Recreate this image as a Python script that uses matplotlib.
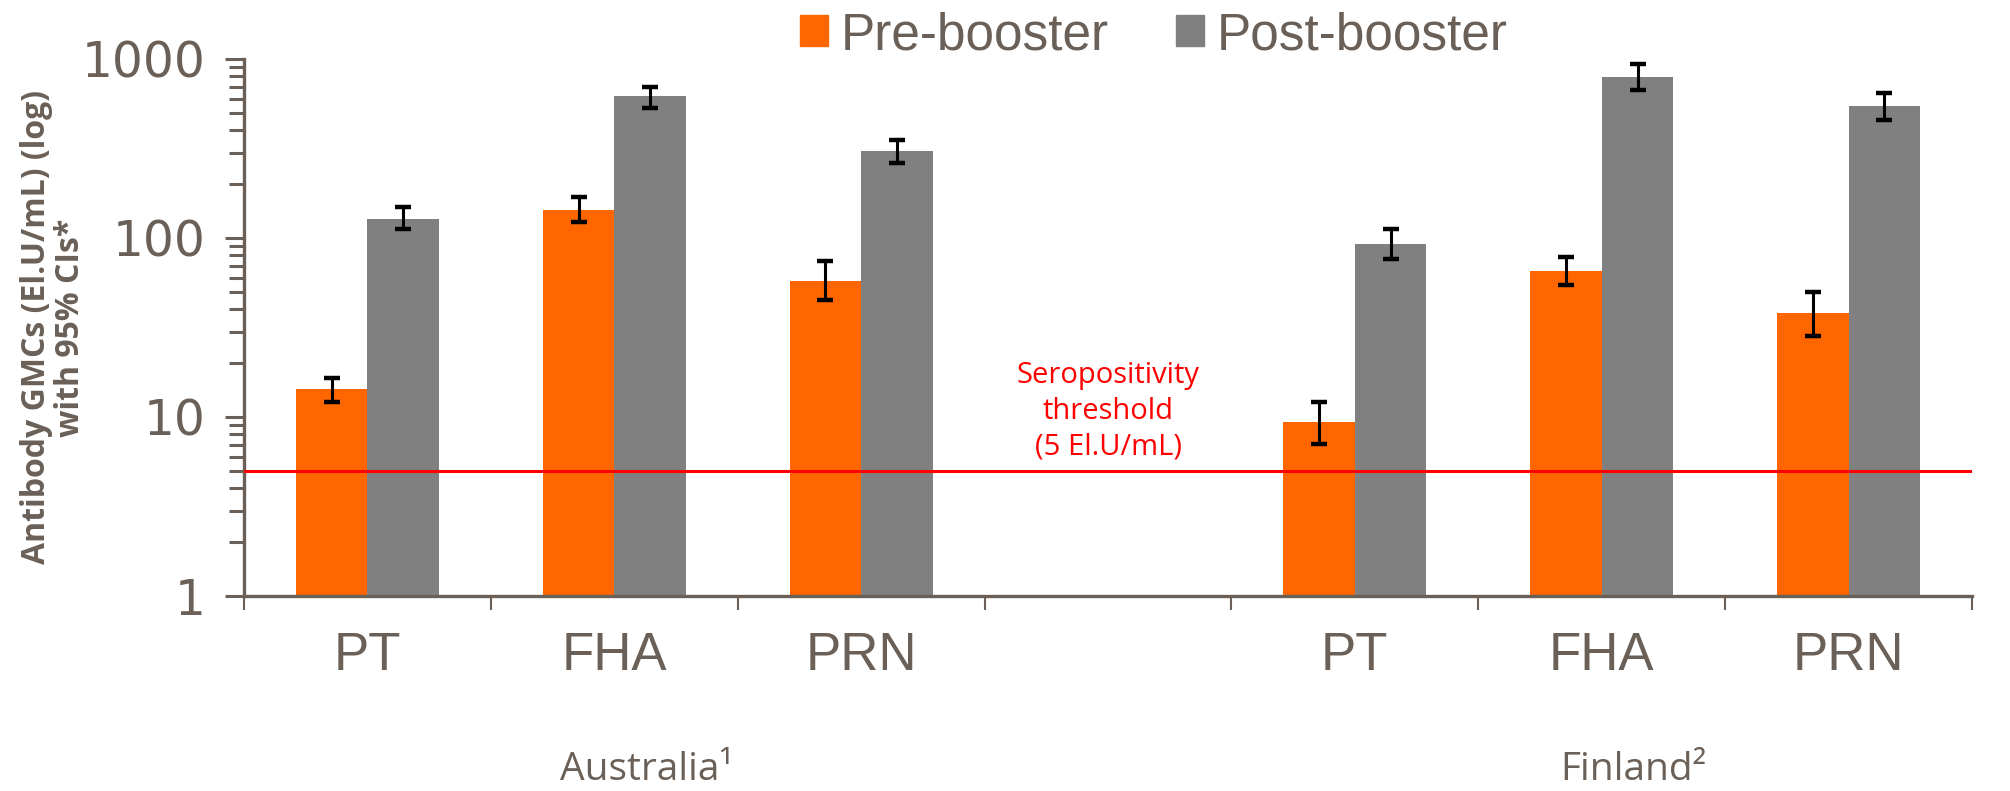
import numpy as np
import matplotlib
matplotlib.use('Agg')
import matplotlib.pyplot as plt
from matplotlib.patches import Patch
import matplotlib.transforms as mtransforms

# data
antigens = ['PT', 'FHA', 'PRN', '', 'PT', 'FHA', 'PRN']
countries = ['Australia\u00b9', 'Finland\u00b2']
country_center = [1, 5]

pre_gmc = [14.3, 143, 57.5, np.nan, 9.4, 65.4, 38.1]
pre_lo = [12.1, 122, 44.9, np.nan, 7.1, 54.4, 28.2]
pre_hi = [16.6, 169, 74.5, np.nan, 12.1, 78, 50]

post_gmc = [128, 621, 306, np.nan, 92.5, 794, 546]
post_lo = [112, 532, 261, np.nan, 76, 669, 456]
post_hi = [149, 694, 352, np.nan, 112, 934, 649]

threshold = 5

text_col = '#6A6057'
orange = '#FF6600'
grey = '#808080'

fig = plt.figure(figsize=(20.1, 7.91), dpi=100)
ax = fig.add_axes([0.1214, 0.2465, 0.8597, 0.679])

x = np.arange(len(antigens))
w = 0.29

pre = np.array(pre_gmc)
post = np.array(post_gmc)
pre_err = [pre - np.array(pre_lo), np.array(pre_hi) - pre]
post_err = [post - np.array(post_lo), np.array(post_hi) - post]

ax.bar(x - w / 2, pre, w, color=orange, zorder=2)
ax.bar(x + w / 2, post, w, color=grey, zorder=2)
ekw = dict(fmt='none', ecolor='black', elinewidth=2.2, capsize=6, capthick=3.2, zorder=3)
ax.errorbar(x - w / 2, pre, yerr=pre_err, **ekw)
ax.errorbar(x + w / 2, post, yerr=post_err, **ekw)

ax.axhline(threshold, color='#FF0000', lw=2.2, zorder=4)
ax.annotate('Seropositivity\nthreshold\n(5 El.U/mL)', xy=(3, threshold),
            xytext=(0, 7), textcoords='offset points', ha='center', va='bottom',
            multialignment='center', color='#FF0000', fontsize=21,
            family='Open Sans', linespacing=1.3)

ax.set_yscale('log')
ax.set_ylim(1, 1000)
ax.set_xlim(-0.5, 6.5)
ax.set_yticks([1, 10, 100, 1000])
ax.set_yticklabels(['1', '10', '100', '1000'], family='DejaVu Sans', fontsize=35, color=text_col)
ax.tick_params(axis='y', which='major', length=13.5, width=2.2, color=text_col, pad=14)
ax.tick_params(axis='y', which='minor', length=10.5, width=2.2, color=text_col)

ax.set_xticks(np.arange(-0.5, 7, 1))
ax.set_xticklabels([])
ax.set_xticks(x, minor=True)
ax.set_xticklabels(antigens, minor=True, family='Liberation Sans', fontsize=38, color=text_col)
ax.tick_params(axis='x', which='major', length=10, width=1.5, color=text_col)
ax.tick_params(axis='x', which='minor', length=0, pad=25)

for s in ['top', 'right']:
    ax.spines[s].set_visible(False)
for s in ['left', 'bottom']:
    ax.spines[s].set_color(text_col)
    ax.spines[s].set_linewidth(2.4)

ax.set_ylabel('Antibody GMCs (El.U/mL) (log)\nwith 95% CIs*', family='Open Sans',
              fontweight='bold', fontsize=23, color=text_col, linespacing=1.05)
ax.yaxis.set_label_coords(-0.091, 0.5)

trans = mtransforms.blended_transform_factory(ax.transData, fig.transFigure)
for name, cx in zip(countries, country_center):
    ax.text(cx + 0.13, 0.014, name, transform=trans, ha='center', va='baseline',
            family='Open Sans', fontsize=28, color=text_col)

handles = [Patch(color=orange, label='Pre-booster'), Patch(color=grey, label='Post-booster')]
leg = fig.legend(handles=handles, loc='center', bbox_to_anchor=(0.574, 0.955), ncol=2,
                 frameon=False, prop={'family': 'Liberation Sans', 'size': 37},
                 handlelength=0.55, handleheight=0.55, handletextpad=0.25, columnspacing=1.3)
for t in leg.get_texts():
    t.set_color(text_col)

fig.savefig('out.png', dpi=100)
